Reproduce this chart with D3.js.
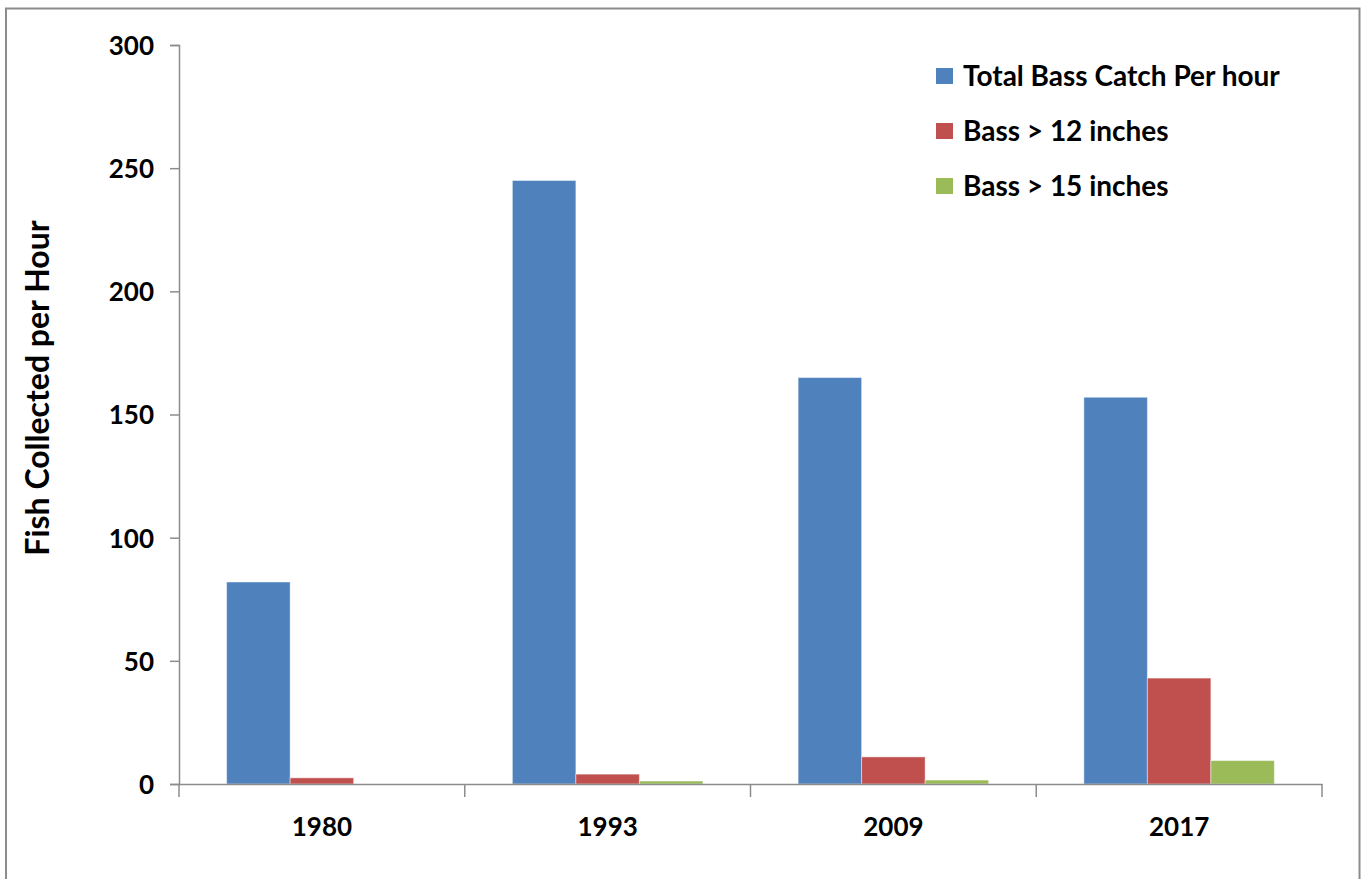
<!DOCTYPE html>
<html>
<head>
<meta charset="utf-8">
<script src="https://cdn.jsdelivr.net/npm/d3@7"></script>
<style>
  html, body { margin: 0; padding: 0; background: #fff; }
  svg { display: block; }
  text { font-family: Lato, "Open Sans", sans-serif; font-weight: bold; fill: #000; }
</style>
</head>
<body>
<svg id="chart" width="1362" height="879"></svg>
<script>
// Survey years
const years = ["1980", "1993", "2009", "2017"];
// Series names
const seriesNames = ["Total Bass Catch Per hour", "Bass > 12 inches", "Bass > 15 inches"];
// Fish collected per hour, one array per series
const totalCatch = [82, 245, 165, 157];
const over12 = [2.5, 4, 11, 43];
const over15 = [0, 1.2, 1.6, 9.5];
// Y axis tick values
const yTicks = [0, 50, 100, 150, 200, 250, 300];

const colors = ["#4F81BD", "#C0504D", "#9BBB59"];
const seriesValues = [totalCatch, over12, over15];

const svg = d3.select("#chart");

// outer frame
svg.append("rect")
  .attr("x", 6).attr("y", 8.5)
  .attr("width", 1353.5).attr("height", 880)
  .attr("fill", "none").attr("stroke", "#8c8c8c").attr("stroke-width", 2);

const plot = { left: 179, right: 1322, top: 45, bottom: 784 };

const x0 = d3.scaleBand().domain(years).range([plot.left, plot.right]).paddingInner(0).paddingOuter(0);
// bar group occupies the middle of each category with 150% gap width
const x1 = d3.scaleBand().domain(d3.range(seriesNames.length))
  .range([0, x0.bandwidth()]).paddingInner(0).paddingOuter(0.75);
const y = d3.scaleLinear().domain([0, 300]).range([plot.bottom, plot.top]);

// bars
const groups = svg.append("g").selectAll("g")
  .data(years).join("g")
  .attr("transform", d => `translate(${x0(d)},0)`);

groups.selectAll("rect")
  .data((d, i) => seriesValues.map((vals, s) => ({ s, v: vals[i] })))
  .join("rect")
  .filter(d => d.v > 0)
  .attr("x", d => x1(d.s))
  .attr("width", x1.bandwidth())
  .attr("y", d => y(d.v))
  .attr("height", d => y(0) - y(d.v))
  .attr("fill", d => colors[d.s])
  .attr("stroke", "rgba(255,255,255,0.45)")
  .attr("stroke-width", 1);

// y axis
const yAxis = svg.append("g")
  .attr("transform", `translate(${plot.left},0)`)
  .call(d3.axisLeft(y).tickValues(yTicks).tickSize(9).tickSizeOuter(9).tickPadding(16));
yAxis.select(".domain").attr("stroke", "#8c8c8c").attr("stroke-width", 1.5);
yAxis.selectAll(".tick line").attr("stroke", "#8c8c8c").attr("stroke-width", 1.5);
yAxis.selectAll(".tick text")
  .style("font-size", "26px")
  .attr("dy", "0.36em");

// x axis
const xAxis = svg.append("g")
  .attr("transform", `translate(0,${plot.bottom})`)
  .call(d3.axisBottom(x0).tickSize(0).tickSizeOuter(0).tickPadding(34));
xAxis.select(".domain").attr("stroke", "#8c8c8c").attr("stroke-width", 1.5);
xAxis.selectAll(".tick text").style("font-size", "26px");

// category separator ticks along the x axis
const boundaries = years.map(d => x0(d)).concat([x0(years[years.length - 1]) + x0.bandwidth()]);
svg.append("g").selectAll("line")
  .data(boundaries).join("line")
  .attr("x1", d => d).attr("x2", d => d)
  .attr("y1", plot.bottom).attr("y2", plot.bottom + 13)
  .attr("stroke", "#8c8c8c").attr("stroke-width", 1.5);

// y axis title
svg.append("text")
  .attr("transform", `translate(49,388) rotate(-90)`)
  .attr("text-anchor", "middle")
  .style("font-size", "32px")
  .text("Fish Collected per Hour");

// legend
const legend = svg.append("g").selectAll("g")
  .data(seriesNames).join("g")
  .attr("transform", (d, i) => `translate(936,${76 + i * 55})`);
legend.append("rect")
  .attr("x", 0).attr("y", -8).attr("width", 17).attr("height", 16)
  .attr("fill", (d, i) => colors[i]);
legend.append("text")
  .attr("x", 27).attr("dy", "0.36em")
  .style("font-size", "28px")
  .text(d => d);
</script>
</body>
</html>
